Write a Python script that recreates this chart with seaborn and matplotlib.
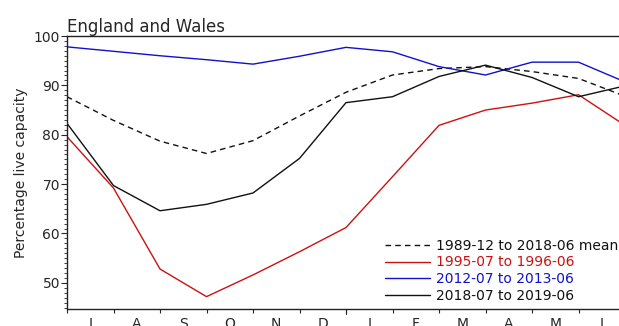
import numpy as np
import pandas as pd
import matplotlib
matplotlib.use("Agg")
import matplotlib.pyplot as plt
import seaborn as sns

# Month boundaries from 1 July to the following 1 July
boundaries = list(range(13))
month_labels = ["J", "A", "S", "O", "N", "D", "J", "F", "M", "A", "M", "J"]

mean_1989_2018 = [87.7, 82.9, 78.7, 76.2, 78.8, 83.8, 88.6, 92.1, 93.4, 93.8, 92.8, 91.4, 87.8]
y1995_96 = [79.6, 69.2, 52.8, 47.2, 51.6, 56.3, 61.2, 71.5, 81.9, 85.0, 86.4, 88.1, 81.9]
y2012_13 = [97.8, 96.9, 96.0, 95.2, 94.3, 95.9, 97.7, 96.8, 93.8, 92.1, 94.7, 94.7, 90.7]
y2018_19 = [82.3, 69.7, 64.6, 65.9, 68.2, 75.2, 86.5, 87.7, 91.8, 94.1, 91.6, 87.7, 89.9]

series_labels = ["1989-12 to 2018-06 mean", "1995-07 to 1996-06",
                 "2012-07 to 2013-06", "2018-07 to 2019-06"]
series_colors = ["#111111", "#cc1111", "#1111cc", "#111111"]

sns.set_style("ticks")
plt.rcParams["font.family"] = ["DejaVu Sans"]

fig = plt.figure(figsize=(6.19, 3.26), dpi=100)
ax = fig.add_axes([67 / 619, (326 - 308.5) / 326, (625 - 67) / 619, (308.5 - 36) / 326])

values = [mean_1989_2018, y1995_96, y2012_13, y2018_19]
for i, (vals, lab, col) in enumerate(zip(values, series_labels, series_colors)):
    ls = (0, (4, 3)) if i == 0 else "-"
    sns.lineplot(x=boundaries, y=vals, ax=ax, color=col, linewidth=1.0,
                 linestyle=ls, label=lab)

ax.set_xlim(0, 12)
ax.set_ylim(44.8, 100)

# x: unlabelled ticks on the month boundaries, labels centred on each month
ax.set_xticks(boundaries)
ax.set_xticklabels([])
ax.tick_params(axis="x", which="major", length=3, width=0.8, direction="out")
ax.set_xticks([b + 0.5 for b in boundaries[:-1]], minor=True)
ax.set_xticklabels(month_labels, minor=True, fontsize=10)
ax.tick_params(axis="x", which="minor", length=0, pad=6)
# longer tick at the turn of the year
ax.axvline(6, ymin=-0.02, ymax=0.0, color="#222222", lw=0.8, clip_on=False)

ax.set_yticks([50, 60, 70, 80, 90, 100])
ax.set_yticks(np.arange(45, 101, 1), minor=True)
ax.tick_params(axis="y", which="major", length=4, width=0.8, labelsize=10, pad=1)
ax.tick_params(axis="y", which="minor", length=2, width=0.6)

for s in ax.spines.values():
    s.set_linewidth(1.0)
    s.set_color("#222222")

ax.set_ylabel("Percentage live capacity", fontsize=10, labelpad=4)
ax.set_xlabel("")
ax.set_title("England and Wales", loc="left", fontsize=12, pad=3)

leg = ax.legend(loc="lower right", bbox_to_anchor=(618 / 619, (326 - 303) / 326),
                bbox_transform=fig.transFigure, frameon=False, fontsize=10,
                handlelength=3.2, handletextpad=0.45, labelspacing=0.2,
                borderaxespad=0, borderpad=0)
for txt, col in zip(leg.get_texts(), series_colors):
    txt.set_color(col)

fig.savefig("out.png", dpi=100)
